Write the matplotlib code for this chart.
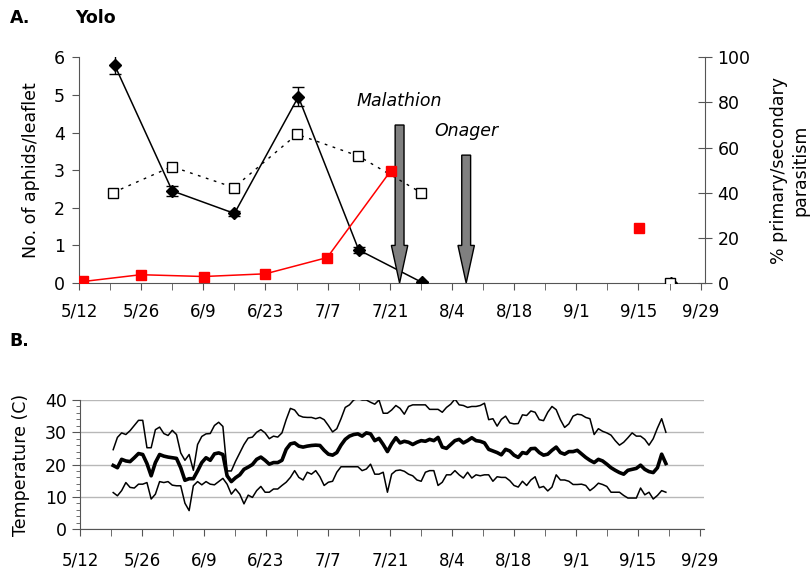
import matplotlib
matplotlib.use("Agg")
import matplotlib.pyplot as plt
from matplotlib.ticker import MultipleLocator
import numpy as np

plt.rcParams['font.family'] = ['DejaVu Sans']
plt.rcParams['font.size'] = 12

# x positions are days after 5/12
tick_labels = ['5/12', '5/26', '6/9', '6/23', '7/7', '7/21', '8/4', '8/18', '9/1', '9/15', '9/29']

# panel A: aphids per leaflet (left axis)
aphid_days = [8, 21, 35, 49.4, 63, 77.2, 133.4]
aphid_mean = [5.8, 2.45, 1.85, 4.95, 0.88, 0.02, 0.0]
aphid_err = [0.25, 0.14, 0.07, 0.25, 0.07, 0.0, 0.0]

# parasitism % (right axis)
open_days = [7.7, 20.9, 34.9, 49.1, 62.9, 77, 133.2]
open_pct = [40.1, 51.6, 42.3, 65.9, 56.3, 40.1, 0.0]
red_days = [1, 13.9, 28.1, 42, 55.9, 70.2, 126.2]
red_pct = [0.7, 3.7, 2.9, 4.1, 11.3, 49.7, 24.6]

# sprays
spray_names = ['Malathion', 'Onager']
spray_days = [72.2, 87.2]
spray_top = [4.2, 3.4]
spray_text_y = [4.85, 4.05]

# panel B: daily temperatures (C)
t_first, t_last = 7.5, 132.3
t_max = [24.6, 28.4, 29.8, 29.3, 30.5, 32.1, 33.7, 33.7, 25.2, 25.2, 30.8, 31.6, 29.6, 29.0, 30.6,
         29.3, 23.6, 21.3, 23.1, 18.2, 26.2, 28.7, 29.5, 29.6, 32.1, 33.1, 31.8, 18.0, 18.0, 21.0,
         23.6, 26.2, 28.2, 28.5, 30.0,
         30.8, 29.8, 28.0, 28.8, 28.5, 29.8, 33.9, 37.4, 36.9, 35.2, 34.7, 34.6, 34.6, 34.2, 34.6,
         33.9, 32.1, 30.1, 31.1, 34.2, 37.7, 38.5, 40.0, 40.5, 40.0, 40.0, 39.3, 38.7, 40.0, 35.9,
         35.9, 36.9, 38.3, 37.4, 35.6, 38.0, 38.5, 38.5,
         38.5, 38.5, 37.1, 37.1, 37.1, 36.2, 37.7, 38.7, 40.3, 38.5, 38.3, 37.7, 38.0, 38.0, 38.3,
         39.0, 33.9, 34.2, 31.9, 34.0, 35.0, 32.9, 32.6, 32.7, 35.4, 35.2, 36.6, 36.2, 33.9, 33.6,
         36.2, 38.0, 37.0, 33.9, 31.5, 32.6, 35.0, 35.6,
         35.4, 34.6, 34.2, 29.3, 31.1, 30.3, 29.8, 29.1, 27.4, 26.0, 26.9, 28.3, 29.8, 28.8, 28.8,
         27.8, 26.0, 28.0, 31.3, 34.2, 30.0]
t_mean = [19.7, 19.0, 21.6, 21.1, 20.9, 22.1, 23.4, 23.1, 20.3, 16.5, 20.6, 23.1, 22.6, 22.3, 22.1,
          21.9, 19.0, 15.1, 15.6, 15.6, 18.0, 20.6, 22.1, 21.3, 23.3, 23.6, 23.1, 16.5, 14.7, 15.9,
          16.8, 18.5, 19.2, 20.0, 21.6,
          22.3, 21.3, 20.1, 20.6, 20.6, 21.3, 24.7, 26.4, 26.7, 25.7, 25.4, 25.7, 25.9, 26.0, 25.9,
          24.4, 23.2, 22.9, 23.7, 26.0, 27.8, 28.8, 29.3, 29.5, 28.8, 29.8, 29.5, 27.4, 28.1, 26.2,
          24.0, 26.4, 28.3, 26.7, 27.2, 26.9, 26.2, 26.9,
          27.4, 27.2, 27.8, 27.4, 28.4, 25.4, 25.0, 26.2, 27.4, 27.8, 26.7, 27.4, 28.3, 27.4, 27.2,
          26.7, 24.7, 24.2, 23.7, 23.0, 24.7, 24.2, 22.9, 22.2, 23.7, 23.4, 24.9, 25.0, 23.7, 22.9,
          23.2, 24.4, 25.4, 23.7, 23.2, 24.0, 24.0, 24.4,
          23.3, 22.2, 21.3, 20.6, 21.6, 21.1, 20.1, 19.0, 18.2, 17.5, 17.0, 18.2, 18.5, 18.8, 19.8,
          18.5, 17.8, 17.5, 19.0, 23.2, 20.3]
t_min = [11.3, 10.3, 11.9, 14.4, 12.9, 12.7, 13.9, 13.9, 14.4, 9.3, 10.8, 14.7, 14.4, 14.7, 13.6,
         13.4, 13.4, 8.0, 5.7, 13.4, 14.7, 13.7, 14.7, 13.9, 13.7, 14.7, 15.7, 13.9, 10.8, 12.4,
         10.8, 7.8, 10.5, 9.8, 11.9,
         13.2, 11.4, 11.4, 12.4, 12.4, 13.5, 14.5, 16.0, 18.1, 16.0, 15.2, 17.6, 17.0, 18.1, 16.2,
         13.5, 14.5, 14.8, 17.6, 19.3, 19.3, 19.3, 19.3, 19.3, 18.1, 18.6, 20.1, 17.0, 17.0, 17.6,
         11.4, 17.0, 18.1, 18.3, 17.9, 17.0, 16.5, 15.2,
         14.8, 17.6, 18.1, 18.1, 13.5, 14.5, 16.8, 16.8, 18.1, 16.8, 15.8, 17.6, 15.8, 16.8, 16.5,
         16.8, 16.8, 14.8, 16.2, 16.0, 16.0, 15.0, 13.5, 13.0, 14.8, 13.5, 15.2, 16.2, 12.8, 13.2,
         11.8, 13.0, 16.8, 15.2, 15.2, 14.8, 13.8, 13.8,
         13.9, 13.5, 11.9, 12.9, 14.2, 13.8, 13.2, 11.4, 11.4, 11.4, 10.4, 9.6, 9.6, 9.6, 12.7,
         10.6, 11.4, 9.3, 10.4, 11.9, 11.4]
t_days = np.linspace(t_first, t_last, len(t_mean))

axis_col = '#555555'
fig = plt.figure(figsize=(8.12, 5.73), dpi=100)

# ---------- panel A ----------
ax = fig.add_axes([0.0973, 0.506, 0.771, 0.394])
ax2 = ax.twinx()

ax.errorbar(aphid_days[:6], aphid_mean[:6], yerr=aphid_err[:6], color='black', lw=1.1,
            marker='D', ms=6, capsize=4.5, capthick=1, elinewidth=1, zorder=3)
ax.plot(aphid_days[6:], aphid_mean[6:], 'D', color='black', ms=6, zorder=3)

for name, d, top, ty in zip(spray_names, spray_days, spray_top, spray_text_y):
    ax.arrow(d, top, 0, -top, width=2.0, head_width=3.7, head_length=1.0,
             length_includes_head=True, fc='#808080', ec='black', lw=1, zorder=4)
    ax.text(d, ty, name, style='italic', ha='center', va='center', fontsize=12.5)

ax2.plot(open_days[:6], open_pct[:6], color='black', lw=1, ls=(0, (2, 4)), zorder=2)
ax2.plot(open_days, open_pct, 's', mfc='white', mec='black', mew=1, ms=7, ls='none', zorder=3)
ax2.plot(red_days[:6], red_pct[:6], color='red', lw=1.1, zorder=2)
ax2.plot(red_days, red_pct, 's', color='red', ms=7, ls='none', zorder=3)

ax.set_xlim(0, 141)
ax.set_ylim(0, 6)
ax2.set_ylim(0, 100)
ax.set_xticks(np.arange(0, 141, 14))
ax.set_xticklabels(tick_labels)
ax.xaxis.set_minor_locator(MultipleLocator(7))
ax.yaxis.set_major_locator(MultipleLocator(1))
ax2.yaxis.set_major_locator(MultipleLocator(20))
ax.tick_params(axis='x', which='both', direction='out', length=5, color=axis_col, labelsize=12, pad=9)
ax.tick_params(axis='y', direction='out', length=5, color=axis_col, labelsize=12.5, pad=5)
ax2.tick_params(axis='y', direction='inout', length=10, color=axis_col, labelsize=12.5, pad=4)
ax.set_ylabel('No. of aphids/leaflet', fontsize=12.5, labelpad=10)
ax2.set_ylabel('% primary/secondary\nparasitism', fontsize=12.5, labelpad=14, linespacing=1.25)
for a in (ax, ax2):
    a.spines['top'].set_visible(False)
    for s in ('left', 'right', 'bottom'):
        a.spines[s].set_color(axis_col)
ax.spines['right'].set_visible(False)
ax2.spines['left'].set_visible(False)
ax2.spines['bottom'].set_visible(False)

# ---------- panel B ----------
bx = fig.add_axes([0.0985, 0.0768, 0.769, 0.2251])
bx.plot(t_days, t_max, color='black', lw=1.1)
bx.plot(t_days, t_min, color='black', lw=1.1)
bx.plot(t_days, t_mean, color='black', lw=2.6)
bx.set_xlim(0, 141)
bx.set_ylim(0, 40)
bx.set_xticks(np.arange(0, 141, 14))
bx.set_xticklabels(tick_labels)
bx.xaxis.set_minor_locator(MultipleLocator(7))
bx.yaxis.set_major_locator(MultipleLocator(10))
bx.yaxis.set_minor_locator(MultipleLocator(2))
bx.grid(axis='y', color='#b8b8b8', lw=1)
bx.set_axisbelow(True)
bx.tick_params(axis='x', which='both', direction='out', length=5, color=axis_col, labelsize=12, pad=11)
bx.tick_params(axis='y', which='major', direction='out', length=6, color=axis_col, labelsize=12.5)
bx.tick_params(axis='y', which='minor', direction='out', length=3, color=axis_col)
bx.set_ylabel('Temperature (C)', fontsize=12.5, labelpad=11)
bx.spines['top'].set_visible(False)
bx.spines['right'].set_visible(False)
bx.spines['left'].set_color(axis_col)
bx.spines['bottom'].set_color(axis_col)

fig.text(0.012, 0.968, 'A.', fontsize=12.5, fontweight='bold', va='center')
fig.text(0.092, 0.968, 'Yolo', fontsize=12.5, fontweight='bold', va='center')
fig.text(0.012, 0.405, 'B.', fontsize=12.5, fontweight='bold', va='center')

fig.savefig('out.png', dpi=100)
